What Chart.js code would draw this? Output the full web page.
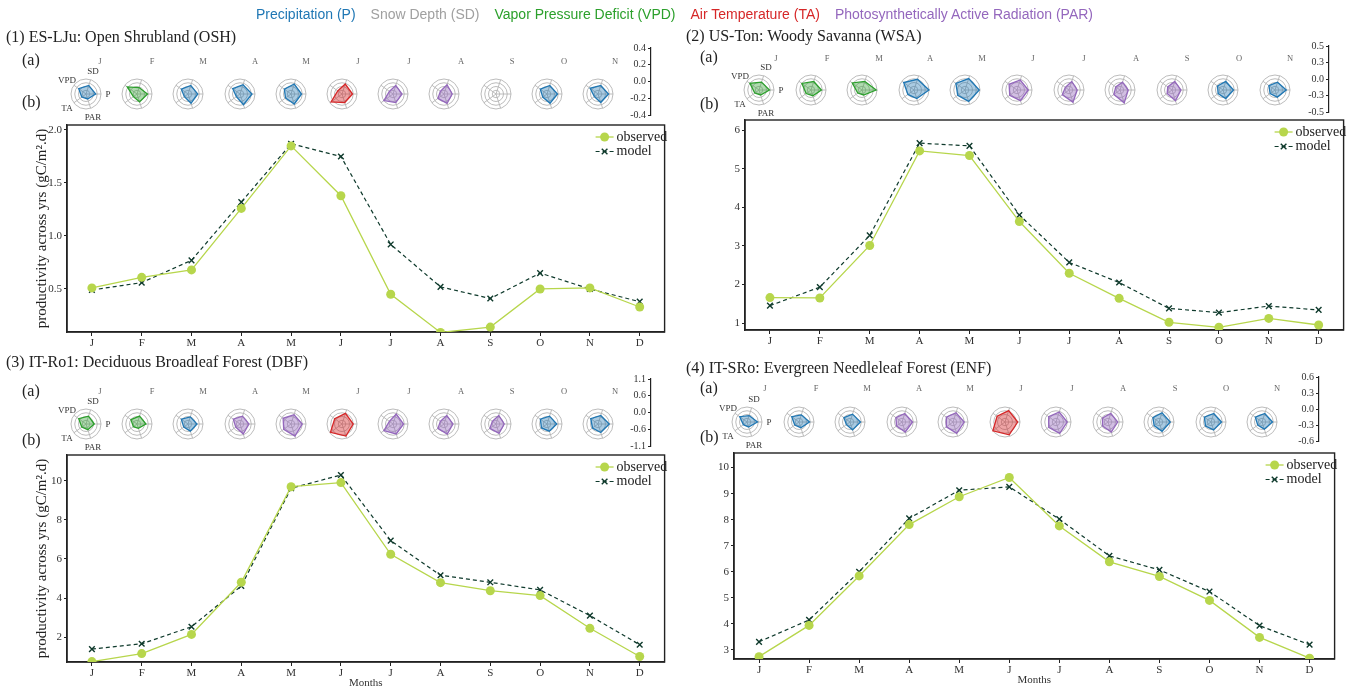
<!DOCTYPE html>
<html>
<head>
<meta charset="utf-8">
<script src="https://cdn.jsdelivr.net/npm/chart.js@4.4.1/dist/chart.umd.min.js"></script>
<style>
html, body { margin: 0; padding: 0; background: #fff; overflow: hidden; }
#fig { position: relative; width: 1349px; height: 686px; overflow: hidden;
       font-family: "Liberation Serif", "DejaVu Serif", serif; color: #222; }
#fig canvas { position: absolute; }
.t { position: absolute; white-space: nowrap; line-height: 1; will-change: transform; }
#header { position: absolute; left: 0; width: 1349px; top: 14px; transform: translateY(-50%);
          display: flex; justify-content: center; gap: 15px; will-change: transform;
          font-family: "Liberation Sans", Arial, sans-serif; font-size: 14px; line-height: 1; }
</style>
</head>
<body>
<div id="fig"><div id="header"></div></div>
<script>
const months = ['J', 'F', 'M', 'A', 'M', 'J', 'J', 'A', 'S', 'O', 'N', 'D'];
const drivers = ['P', 'SD', 'VPD', 'TA', 'PAR'];
const driverNames = ['Precipitation (P)', 'Snow Depth (SD)', 'Vapor Pressure Deficit (VPD)',
                     'Air Temperature (TA)', 'Photosynthetically Active Radiation (PAR)'];
const driverColors = ['#1f77b4', '#a0a0a0', '#2ca02c', '#d62728', '#9467bd'];
const driverFills = ['rgba(31,119,180,0.38)', 'rgba(160,160,160,0.38)', 'rgba(44,160,44,0.38)',
                     'rgba(214,39,40,0.42)', 'rgba(148,103,189,0.42)'];

// (1) ES-LJu
const obs1 = [0.51, 0.61, 0.68, 1.26, 1.85, 1.38, 0.45, 0.09, 0.14, 0.50, 0.51, 0.33];
const mod1 = [0.49, 0.56, 0.77, 1.32, 1.87, 1.75, 0.92, 0.52, 0.41, 0.65, 0.50, 0.38];
const yTicks1 = [0.5, 1.0, 1.5, 2.0];
const rTicks1 = [-0.4, -0.2, 0, 0.2, 0.4];
// driver sensitivities per month, in the order P, SD, VPD, TA, PAR
const radar1 = [
  [0.12, 0.08, 0.08, -0.12, -0.12],
  [0.16, -0.04, 0.24, -0.16, 0.04],
  [0.12, 0.08, 0.04, -0.16, 0.12],
  [0.24, 0.12, 0.08, -0.16, 0.20],
  [0.16, 0.16, 0.04, -0.04, 0.16],
  [0.16, 0.16, -0.12, 0.32, 0.08],
  [0.08, 0.08, -0.16, 0.20, 0.08],
  [0.04, 0.12, -0.16, 0.00, 0.12],
  null,
  [0.16, 0.08, 0.04, -0.12, 0.12],
  [0.16, 0.08, 0.12, -0.16, 0.08]
];
const lead1 = ['P', 'VPD', 'P', 'P', 'P', 'TA', 'PAR', 'PAR', null, 'P', 'P'];

// (2) US-Ton
const obs2 = [1.66, 1.65, 3.01, 5.46, 5.34, 3.63, 2.29, 1.64, 1.02, 0.89, 1.12, 0.95];
const mod2 = [1.45, 1.93, 3.27, 5.66, 5.59, 3.80, 2.57, 2.05, 1.38, 1.27, 1.44, 1.34];
const yTicks2 = [1, 2, 3, 4, 5, 6];
const rTicks2 = [-0.5, -0.25, 0, 0.25, 0.5];
const radar2 = [
  [0.20, 0.05, 0.25, -0.15, -0.15],
  [0.20, 0.10, 0.25, -0.10, -0.10],
  [0.45, 0.10, 0.30, -0.15, -0.15],
  [0.50, 0.25, 0.35, 0.00, 0.10],
  [0.45, 0.30, 0.25, 0.10, 0.30],
  [0.25, 0.20, 0.15, 0.10, 0.25],
  [0.05, 0.10, -0.20, 0.05, 0.35],
  [0.05, 0.05, -0.15, 0.00, 0.40],
  [0.10, 0.10, -0.15, -0.10, 0.25],
  [0.20, 0.10, -0.05, -0.10, 0.10],
  [0.25, 0.05, 0.00, -0.10, 0.00]
];
const lead2 = ['VPD', 'VPD', 'VPD', 'P', 'P', 'PAR', 'PAR', 'PAR', 'PAR', 'P', 'P'];

// (3) IT-Ro1
const obs3 = [0.76, 1.17, 2.15, 4.81, 9.69, 9.90, 6.24, 4.79, 4.38, 4.13, 2.46, 1.02];
const mod3 = [1.40, 1.67, 2.54, 4.62, 9.61, 10.29, 6.94, 5.17, 4.81, 4.42, 3.11, 1.62];
const yTicks3 = [2, 4, 6, 8, 10];
const rTicks3 = [-1.1, -0.55, 0, 0.55, 1.1];
const radar3 = [
  [0.11, 0.11, 0.22, -0.33, -0.22],
  [0.22, 0.11, 0.00, -0.44, -0.44],
  [0.22, 0.00, 0.11, -0.33, 0.00],
  [0.22, 0.11, 0.11, -0.33, 0.44],
  [0.55, 0.33, 0.33, 0.22, 0.77],
  [0.55, 0.55, 0.22, 0.99, 0.77],
  [0.44, 0.44, -0.44, 0.55, 0.44],
  [0.22, 0.22, -0.44, 0.00, 0.44],
  [0.11, 0.22, -0.44, 0.00, 0.33],
  [0.33, 0.11, 0.11, -0.11, 0.00],
  [0.55, 0.22, 0.22, -0.11, 0.22]
];
const lead3 = ['VPD', 'VPD', 'P', 'PAR', 'PAR', 'TA', 'PAR', 'PAR', 'PAR', 'P', 'P'];

// (4) IT-SRo
const obs4 = [2.74, 3.94, 5.84, 7.81, 8.88, 9.62, 7.76, 6.38, 5.82, 4.90, 3.48, 2.68];
const mod4 = [3.31, 4.15, 6.00, 8.05, 9.13, 9.26, 8.02, 6.61, 6.07, 5.24, 3.93, 3.20];
const yTicks4 = [3, 4, 5, 6, 7, 8, 9, 10];
const rTicks4 = [-0.6, -0.3, 0, 0.3, 0.6];
const radar4 = [
  [0.24, -0.06, 0.12, -0.24, -0.18],
  [0.24, 0.00, 0.12, -0.18, -0.12],
  [0.24, 0.06, 0.00, -0.24, 0.06],
  [0.24, 0.12, 0.00, -0.06, 0.24],
  [0.30, 0.18, 0.06, 0.06, 0.36],
  [0.42, 0.36, 0.18, 0.60, 0.48],
  [0.30, 0.24, 0.12, 0.12, 0.36],
  [0.18, 0.12, -0.06, -0.06, 0.24],
  [0.30, 0.18, 0.00, -0.12, 0.18],
  [0.24, 0.12, 0.06, -0.06, 0.06],
  [0.24, 0.12, 0.06, -0.18, 0.00]
];
const lead4 = ['P', 'P', 'P', 'PAR', 'PAR', 'TA', 'PAR', 'PAR', 'P', 'P', 'P'];

const obsColor = '#b7d64c';
const modColor = '#0f3a2c';
const serif = '"Liberation Serif", "DejaVu Serif", serif';

const panels = [
  { title: '(1) ES-LJu: Open Shrubland (OSH)', tx: 6, ty: 37, a: [22, 60], b: [22, 102],
    obs: obs1, mod: mod1, yTicks: yTicks1, yMin: 0.094, yMax: 2.047, yDec: 1,
    rTicks: rTicks1, radar: radar1, lead: lead1,
    rx0: 86, rdx: 51.2, ry: 94, mx0: 100, mdx: 51.5, my: 61, axX: 651, axTop: 48, axBot: 115,
    plot: { L: 67, R: 666, T: 125, B: 332 }, box: { x: 20, y: 115, w: 650, h: 242 },
    yTitle: true, xTitle: false },
  { title: '(2) US-Ton: Woody Savanna (WSA)', tx: 686, ty: 36, a: [700, 57], b: [700, 104],
    obs: obs2, mod: mod2, yTicks: yTicks2, yMin: 0.82, yMax: 6.26, yDec: 0,
    rTicks: rTicks2, radar: radar2, lead: lead2,
    rx0: 759, rdx: 51.6, ry: 90, mx0: 776, mdx: 51.4, my: 58, axX: 1329, axTop: 46, axBot: 112,
    plot: { L: 745, R: 1345, T: 120, B: 330 }, box: { x: 700, y: 110, w: 649, h: 245 },
    yTitle: false, xTitle: false },
  { title: '(3) IT-Ro1: Deciduous Broadleaf Forest (DBF)', tx: 6, ty: 362, a: [22, 391], b: [22, 440],
    obs: obs3, mod: mod3, yTicks: yTicks3, yMin: 0.74, yMax: 11.31, yDec: 0,
    rTicks: rTicks3, radar: radar3, lead: lead3,
    rx0: 86, rdx: 51.2, ry: 424, mx0: 100, mdx: 51.5, my: 391, axX: 651, axTop: 379, axBot: 446,
    plot: { L: 67, R: 666, T: 455, B: 662 }, box: { x: 20, y: 445, w: 650, h: 245 },
    yTitle: true, xTitle: true, xTitlePad: 0 },
  { title: '(4) IT-SRo: Evergreen Needleleaf Forest (ENF)', tx: 686, ty: 368, a: [700, 388], b: [700, 437],
    obs: obs4, mod: mod4, yTicks: yTicks4, yMin: 2.65, yMax: 10.56, yDec: 0,
    rTicks: rTicks4, radar: radar4, lead: lead4,
    rx0: 747, rdx: 51.5, ry: 422, mx0: 765, mdx: 51.2, my: 388, axX: 1319, axTop: 377, axBot: 441,
    plot: { L: 734, R: 1336, T: 453, B: 659 }, box: { x: 690, y: 443, w: 650, h: 247 },
    yTitle: false, xTitle: true, xTitlePad: 3 }
];

const fig = document.getElementById('fig');

function text(str, x, y, size, opt = {}) {
  const d = document.createElement('div');
  d.className = 't';
  d.textContent = str;
  d.style.left = x + 'px';
  d.style.top = y + 'px';
  d.style.fontSize = size + 'px';
  d.style.transform = opt.center ? 'translate(-50%,-50%)' : 'translateY(-50%)';
  if (opt.color) d.style.color = opt.color;
  fig.appendChild(d);
}

function addCanvas(x, y, w, h) {
  const c = document.createElement('canvas');
  c.width = w; c.height = h;
  c.style.left = x + 'px'; c.style.top = y + 'px';
  c.style.width = w + 'px'; c.style.height = h + 'px';
  fig.appendChild(c);
  return c;
}

// header legend of the five drivers
const header = document.getElementById('header');
driverNames.forEach((n, i) => {
  const s = document.createElement('span');
  s.textContent = n;
  s.style.color = driverColors[i];
  header.appendChild(s);
});

const base = { responsive: false, animation: false, events: [],
               plugins: { legend: { display: false }, tooltip: { enabled: false } } };

// border round the plot area
const framePlugin = {
  id: 'frame',
  beforeDatasetsDraw(chart) {
    const { ctx, chartArea: a } = chart;
    ctx.save();
    ctx.strokeStyle = '#222';
    ctx.lineWidth = 1.4;
    ctx.strokeRect(a.left, a.top, a.right - a.left, a.bottom - a.top);
    ctx.restore();
  }
};

// observed / model legend in the upper right corner
const innerLegend = {
  id: 'innerLegend',
  afterDraw(chart) {
    const { ctx, chartArea: a } = chart;
    chart.data.datasets.forEach((ds, i) => {
      const y = a.top + 12 + i * 14.5;
      const x0 = a.right - 69;
      ctx.save();
      ctx.strokeStyle = ds.borderColor;
      ctx.lineWidth = ds.borderWidth;
      ctx.setLineDash(ds.borderDash || []);
      ctx.beginPath(); ctx.moveTo(x0, y); ctx.lineTo(x0 + 18, y); ctx.stroke();
      ctx.setLineDash([]);
      const mx = x0 + 9, r = ds.pointRadius;
      if (ds.pointStyle === 'circle') {
        ctx.fillStyle = ds.backgroundColor;
        ctx.beginPath(); ctx.arc(mx, y, r, 0, Math.PI * 2); ctx.fill();
      } else {
        const d = r * Math.SQRT1_2;
        ctx.lineWidth = ds.pointBorderWidth;
        ctx.beginPath();
        ctx.moveTo(mx - d, y - d); ctx.lineTo(mx + d, y + d);
        ctx.moveTo(mx - d, y + d); ctx.lineTo(mx + d, y - d);
        ctx.stroke();
      }
      ctx.fillStyle = '#222';
      ctx.font = '14px ' + serif;
      ctx.textBaseline = 'middle';
      ctx.fillText(ds.label, a.right - 48, y);
      ctx.restore();
    });
  }
};

function lineChart(p) {
  const bx = p.box, pl = p.plot;
  const wy = pl.L - bx.x;
  const hx = bx.y + bx.h - pl.B;
  new Chart(addCanvas(bx.x, bx.y, bx.w, bx.h), {
    type: 'line',
    data: {
      labels: months,
      datasets: [
        { label: 'observed', data: p.obs, borderColor: obsColor, backgroundColor: obsColor,
          borderWidth: 1.3, pointRadius: 4.5, pointStyle: 'circle', pointBorderWidth: 0, tension: 0 },
        { label: 'model', data: p.mod, borderColor: modColor, backgroundColor: modColor,
          borderWidth: 1.2, borderDash: [4, 3], pointRadius: 4, pointStyle: 'crossRot',
          pointBorderWidth: 1.4, tension: 0 }
      ]
    },
    options: {
      ...base,
      layout: { padding: { left: 0, right: bx.x + bx.w - pl.R, top: pl.T - bx.y, bottom: 0 } },
      scales: {
        x: {
          offset: true,
          afterFit: s => { s.height = hx; },
          grid: { drawOnChartArea: false, tickLength: 4, color: '#222' },
          border: { color: '#222', width: 1.4 },
          ticks: { font: { family: serif, size: 11 }, color: '#333', padding: 1,
                   maxRotation: 0, autoSkip: false },
          title: { display: p.xTitle, text: 'Months', color: '#333',
                   font: { family: serif, size: 11 }, padding: { top: 0, bottom: p.xTitlePad || 0 } }
        },
        y: {
          min: p.yMin, max: p.yMax,
          afterBuildTicks: s => { s.ticks = p.yTicks.map(v => ({ value: v })); },
          afterFit: s => { s.width = wy; },
          grid: { drawOnChartArea: false, tickLength: 3, color: '#222' },
          border: { color: '#222', width: 1.4 },
          ticks: { font: { family: serif, size: 11 }, color: '#333', padding: 2,
                   callback: v => v.toFixed(p.yDec) },
          title: { display: p.yTitle, text: 'productivity across yrs (gC/m\u00b2.d)', color: '#222',
                   font: { family: serif, size: 15 }, padding: { top: 13, bottom: 0 } }
        }
      }
    },
    plugins: [framePlugin, innerLegend]
  });
}

// clockwise from east: P, PAR, TA, VPD, SD
const drawOrder = [0, 4, 3, 2, 1];

function radarChart(vals, lead, cx, cy, rTicks) {
  const R = 15, pad = 2, size = 2 * R + 2 * pad;
  const k = drivers.indexOf(lead);
  const datasets = vals ? [{
    data: drawOrder.map(j => vals[j]),
    borderColor: driverColors[k], backgroundColor: driverFills[k],
    borderWidth: 1.3, pointRadius: 0, fill: 'start'
  }] : [];
  new Chart(addCanvas(cx - size / 2, cy - size / 2, size, size), {
    type: 'radar',
    data: { labels: drawOrder.map(j => drivers[j]), datasets },
    options: {
      ...base,
      layout: { padding: pad },
      scales: {
        r: {
          min: rTicks[0], max: rTicks[rTicks.length - 1], startAngle: 90,
          afterBuildTicks: s => { s.ticks = rTicks.map(v => ({ value: v })); },
          ticks: { display: false },
          pointLabels: { display: false },
          grid: { circular: true, color: '#b4b4b4', lineWidth: 0.9 },
          angleLines: { color: '#b4b4b4', lineWidth: 0.9 }
        }
      }
    }
  });
}

// radial scale shared by a row of radars
function radialAxis(p) {
  const pad = 8;
  new Chart(addCanvas(p.axX - 32, p.axTop - pad, 36, p.axBot - p.axTop + 2 * pad), {
    type: 'line',
    data: { labels: [], datasets: [] },
    options: {
      ...base,
      layout: { padding: { top: pad, bottom: pad, left: 0, right: 2 } },
      scales: {
        x: { display: false },
        y: {
          min: p.rTicks[0], max: p.rTicks[p.rTicks.length - 1],
          afterBuildTicks: s => { s.ticks = p.rTicks.map(v => ({ value: v })); },
          afterFit: s => { s.width = 32; },
          grid: { drawOnChartArea: false, tickLength: 3, color: '#222' },
          border: { color: '#222', width: 1.2 },
          ticks: { font: { family: serif, size: 10 }, color: '#333', padding: 2,
                   callback: v => v.toFixed(1) }
        }
      }
    }
  });
}

const labelAngle = { P: 0, SD: 72, VPD: 144, TA: 216, PAR: 288 };

panels.forEach(p => {
  text(p.title, p.tx, p.ty, 16);
  text('(a)', p.a[0], p.a[1], 16);
  text('(b)', p.b[0], p.b[1], 16);
  p.radar.forEach((vals, i) => {
    const cx = p.rx0 + p.rdx * i;
    radarChart(vals, p.lead[i], cx, p.ry, p.rTicks);
    text(months[i], p.mx0 + p.mdx * i, p.my, 8.5, { center: true, color: '#666' });
  });
  drivers.forEach(d => {
    const ang = labelAngle[d] * Math.PI / 180;
    const r = d === 'P' ? 22 : 24;
    text(d, p.rx0 + r * Math.cos(ang), p.ry - r * Math.sin(ang), 9, { center: true, color: '#333' });
  });
  radialAxis(p);
  lineChart(p);
});
</script>
</body>
</html>
